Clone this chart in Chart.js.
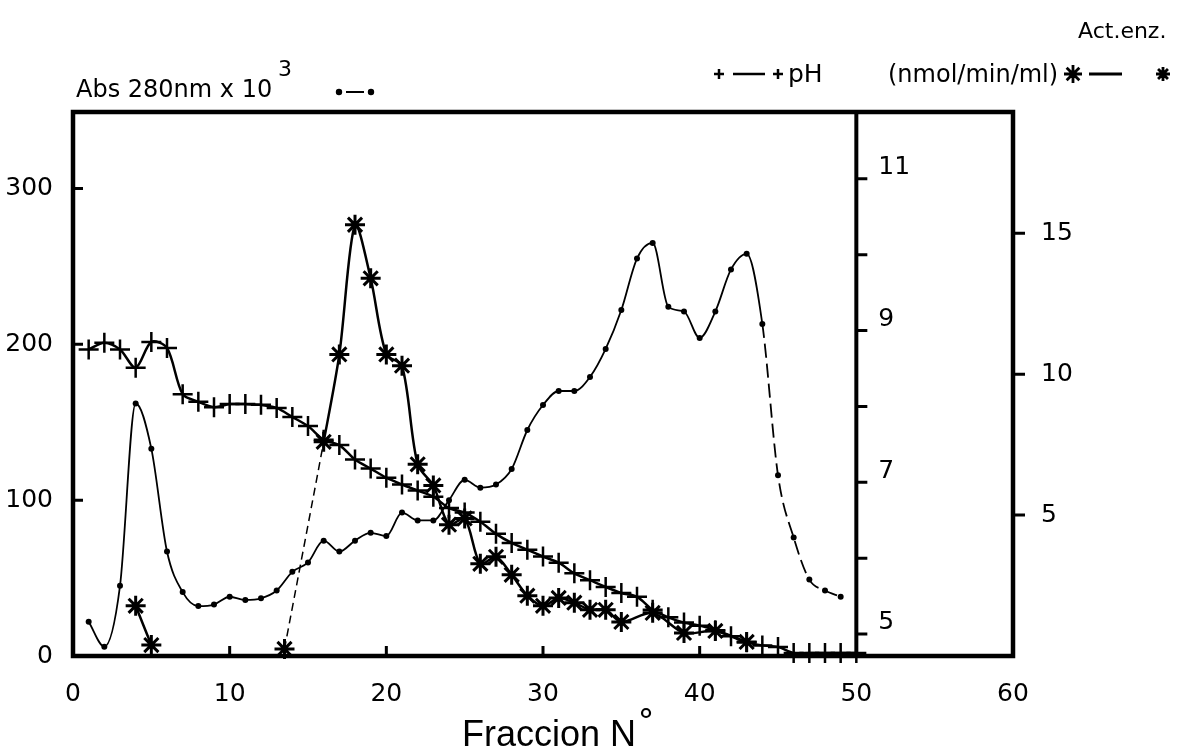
<!DOCTYPE html>
<html>
<head>
<meta charset="utf-8">
<script src="https://cdn.jsdelivr.net/npm/chart.js@4.4.1/dist/chart.umd.min.js"></script>
<style>
  html, body { margin: 0; padding: 0; background: #fff; }
  #wrap { width: 1182px; height: 751px; }
</style>
</head>
<body>
<div id="wrap"><canvas id="grafico" width="1182" height="751"></canvas></div>
<script>
// ==========================================
// DATOS
// ==========================================
const fraccionesAbs = [1, 2, 3, 4, 5, 6, 7, 8, 9, 10, 11, 12, 13, 14, 15, 16, 17, 18, 19, 20,
  21, 22, 23, 24, 25, 26, 27, 28, 29, 30, 31, 32, 33, 34, 35, 36, 37, 38, 39, 40,
  41, 42, 43, 44, 45, 46, 47, 48, 49];
const abs280 = [22, 6, 45, 162, 133, 67, 41, 32, 33, 38, 36, 37, 42, 54, 60, 74, 67, 74, 79, 77,
  92, 87, 87, 100, 113, 108, 110, 120, 145, 161, 170, 170, 179, 197, 222, 255, 265, 224, 221, 204,
  221, 248, 258, 213, 116, 76, 49, 42, 38];

const fraccionesPH = [1, 2, 3, 4, 5, 6, 7, 8, 9, 10, 11, 12, 13, 14, 15, 16, 17, 18, 19, 20,
  21, 22, 23, 24, 25, 26, 27, 28, 29, 30, 31, 32, 33, 34, 35, 36, 37, 38, 39, 40,
  41, 42, 43, 44, 45, 46, 47, 48, 49, 50];
const valoresPH = [8.75, 8.84, 8.75, 8.51, 8.85, 8.77, 8.16, 8.06, 7.99, 8.03,
  8.03, 8.02, 7.98, 7.86, 7.74, 7.56, 7.49, 7.30, 7.18, 7.06,
  6.97, 6.89, 6.81, 6.66, 6.60, 6.48, 6.32, 6.20, 6.11, 6.02,
  5.94, 5.80, 5.71, 5.62, 5.54, 5.49, 5.32, 5.22, 5.15, 5.11,
  5.05, 4.97, 4.89, 4.85, 4.83, 4.75, 4.75, 4.75, 4.75, 4.75];

const fraccionesEnz = [4, 5, 13.5, 16, 17, 18, 19, 20, 21, 22, 23, 24, 25, 26, 27, 28, 29, 30,
  31, 32, 33, 34, 35, 37, 39, 41, 43];
const actEnz = [1.78, 0.39, 0.25, 7.6, 10.7, 15.3, 13.4, 10.7, 10.3, 6.8, 6.05, 4.66, 4.88, 3.27,
  3.52, 2.88, 2.14, 1.78, 2.06, 1.89, 1.64, 1.64, 1.21, 1.53, 0.82, 0.89, 0.50];

const ticksX = [0, 10, 20, 30, 40, 50, 60];
const ticksAbs = [0, 100, 200, 300];
const ticksPH = [5, 6, 7, 8, 9, 10, 11];
const etiquetasPH = [5, 7, 9, 11];
const ticksEnz = [5, 10, 15];

// ==========================================
// PUNTOS
// ==========================================
const puntosAbs = fraccionesAbs.map((f, i) => ({ x: f, y: abs280[i] }));
const puntosPH = fraccionesPH.map((f, i) => ({ x: f, y: valoresPH[i] }));

// hueco entre fracciones lejanas (sin línea)
const puntosEnz = [];
fraccionesEnz.forEach((f, i) => {
  if (i > 0 && f - fraccionesEnz[i - 1] > 3) {
    puntosEnz.push({ x: (f + fraccionesEnz[i - 1]) / 2, y: null });
  }
  puntosEnz.push({ x: f, y: actEnz[i] });
});

const fuenteNum = { family: "'DejaVu Sans', sans-serif", size: 25 };

// ==========================================
// MARCO, TICKS Y TEXTOS
// ==========================================
const marcoPlugin = {
  id: 'marco',
  afterDatasetsDraw(chart) {
    const { ctx, chartArea: a, scales } = chart;
    const sx = scales.x, sAbs = scales.yAbs, sPH = scales.yPH, sEnz = scales.yEnz;
    const xPH = sx.getPixelForValue(50);
    ctx.save();
    ctx.strokeStyle = '#000';
    ctx.fillStyle = '#000';
    ctx.lineCap = 'butt';

    // caja
    ctx.lineWidth = 4.5;
    ctx.strokeRect(a.left, a.top, a.right - a.left, a.bottom - a.top);
    // eje pH
    ctx.lineWidth = 4;
    ctx.beginPath();
    ctx.moveTo(xPH, a.top);
    ctx.lineTo(xPH, a.bottom);
    ctx.stroke();

    ctx.lineWidth = 3;
    ctx.beginPath();
    ticksAbs.forEach(v => {
      if (v === 0) return;
      const y = sAbs.getPixelForValue(v);
      ctx.moveTo(a.left, y); ctx.lineTo(a.left + 10, y);
    });
    ticksX.forEach(v => {
      if (v === 0 || v >= 50) return;
      const x = sx.getPixelForValue(v);
      ctx.moveTo(x, a.bottom); ctx.lineTo(x, a.bottom - 10);
    });
    ticksPH.forEach(v => {
      const y = sPH.getPixelForValue(v);
      ctx.moveTo(xPH, y); ctx.lineTo(xPH + 11, y);
    });
    ticksEnz.forEach(v => {
      const y = sEnz.getPixelForValue(v);
      ctx.moveTo(a.right, y); ctx.lineTo(a.right + 12, y);
    });
    ctx.stroke();

    // etiquetas pH
    ctx.font = "25px 'DejaVu Sans'";
    ctx.textAlign = 'left';
    ctx.textBaseline = 'middle';
    etiquetasPH.forEach(v => {
      ctx.fillText(String(v), xPH + 22, sPH.getPixelForValue(v) - 11);
    });

    // encabezado izquierdo
    ctx.textBaseline = 'alphabetic';
    ctx.font = "24px 'DejaVu Sans'";
    ctx.fillText('Abs 280nm x 10', 76, 97);
    ctx.font = "22px 'DejaVu Sans'";
    ctx.fillText('3', 278, 76);
    ctx.lineWidth = 2;
    ctx.beginPath();
    ctx.arc(339, 92, 3.2, 0, Math.PI * 2);
    ctx.arc(371, 92, 3.2, 0, Math.PI * 2);
    ctx.fill();
    ctx.beginPath();
    ctx.moveTo(346, 92); ctx.lineTo(364, 92);
    ctx.stroke();

    // encabezado derecho: pH
    ctx.lineWidth = 2.5;
    ctx.beginPath();
    [719, 778].forEach(cx => {
      ctx.moveTo(cx - 5, 74); ctx.lineTo(cx + 5, 74);
      ctx.moveTo(cx, 69); ctx.lineTo(cx, 79);
    });
    ctx.moveTo(733, 74); ctx.lineTo(765, 74);
    ctx.stroke();
    ctx.font = "25px 'DejaVu Sans'";
    ctx.fillText('pH', 788, 82);

    // actividad enzimática
    ctx.font = "24px 'DejaVu Sans'";
    ctx.fillText('(nmol/min/ml)', 888, 82);
    ctx.lineWidth = 2.8;
    ctx.beginPath();
    [[1073, 9], [1163, 7]].forEach(([cx, r]) => {
      for (let k = 0; k < 4; k++) {
        const ang = k * Math.PI / 4;
        ctx.moveTo(cx - r * Math.cos(ang), 74 - r * Math.sin(ang));
        ctx.lineTo(cx + r * Math.cos(ang), 74 + r * Math.sin(ang));
      }
    });
    ctx.moveTo(1089, 74); ctx.lineTo(1122, 74);
    ctx.stroke();
    ctx.font = "22px 'DejaVu Sans'";
    ctx.fillText('Act.enz.', 1078, 38);

    // título del eje x
    ctx.font = "36px 'Liberation Sans'";
    ctx.fillText('Fraccion N', 462, 746);
    const w = ctx.measureText('Fraccion N').width;
    ctx.lineWidth = 2.2;
    ctx.beginPath();
    ctx.arc(462 + w + 10, 713, 4, 0, Math.PI * 2);
    ctx.stroke();

    ctx.restore();
  }
};

// ==========================================
// GRÁFICA
// ==========================================
new Chart(document.getElementById('grafico'), {
  type: 'line',
  data: {
    datasets: [
      {
        label: 'Abs 280nm x 10^3',
        data: puntosAbs,
        yAxisID: 'yAbs',
        borderColor: '#000',
        borderWidth: 1.8,
        pointRadius: 3,
        pointBackgroundColor: '#000',
        pointBorderWidth: 0,
        cubicInterpolationMode: 'monotone',
        segment: {
          borderDash: c => c.p0.parsed.x >= 44 ? [14, 6] : undefined
        }
      },
      {
        label: 'pH',
        data: puntosPH,
        yAxisID: 'yPH',
        borderColor: '#000',
        borderWidth: 2.5,
        pointStyle: 'cross',
        pointRadius: 10,
        pointBorderWidth: 2.5,
        pointBorderColor: '#000',
        tension: 0.3,
        clip: false
      },
      {
        label: 'Act.enz. (nmol/min/ml)',
        data: puntosEnz,
        yAxisID: 'yEnz',
        borderColor: '#000',
        borderWidth: 2.5,
        pointStyle: 'star',
        pointRadius: 10,
        pointBorderWidth: 3,
        pointBorderColor: '#000',
        tension: 0.3,
        spanGaps: false,
        clip: false,
        segment: {
          borderDash: c => c.p0.parsed.x === 13.5 ? [8, 5] : undefined,
          borderWidth: c => c.p0.parsed.x === 13.5 ? 1.5 : undefined
        }
      }
    ]
  },
  options: {
    responsive: false,
    animation: false,
    devicePixelRatio: 1,
    layout: { padding: { top: 112, left: 0, right: 0, bottom: 0 } },
    plugins: {
      legend: { display: false },
      tooltip: { enabled: false }
    },
    scales: {
      x: {
        type: 'linear',
        position: 'bottom',
        min: 0,
        max: 60,
        afterBuildTicks: s => { s.ticks = ticksX.map(v => ({ value: v })); },
        afterFit: s => { s.height = 95; },
        grid: { display: false },
        border: { display: false },
        ticks: { font: fuenteNum, color: '#000', padding: 15, maxRotation: 0, autoSkip: false }
      },
      yAbs: {
        type: 'linear',
        position: 'left',
        min: 0,
        max: 349,
        afterBuildTicks: s => { s.ticks = ticksAbs.map(v => ({ value: v })); },
        afterFit: s => { s.width = 73; },
        grid: { display: false },
        border: { display: false },
        ticks: { font: fuenteNum, color: '#000', padding: 12 }
      },
      yPH: {
        type: 'linear',
        position: 'right',
        display: false,
        min: 4.71,
        max: 11.88
      },
      yEnz: {
        type: 'linear',
        position: 'right',
        min: 0,
        max: 19.3,
        afterBuildTicks: s => { s.ticks = ticksEnz.map(v => ({ value: v })); },
        afterFit: s => { s.width = 169; },
        grid: { display: false },
        border: { display: false },
        ticks: { font: fuenteNum, color: '#000', padding: 20 }
      }
    }
  },
  plugins: [marcoPlugin]
});
</script>
</body>
</html>
